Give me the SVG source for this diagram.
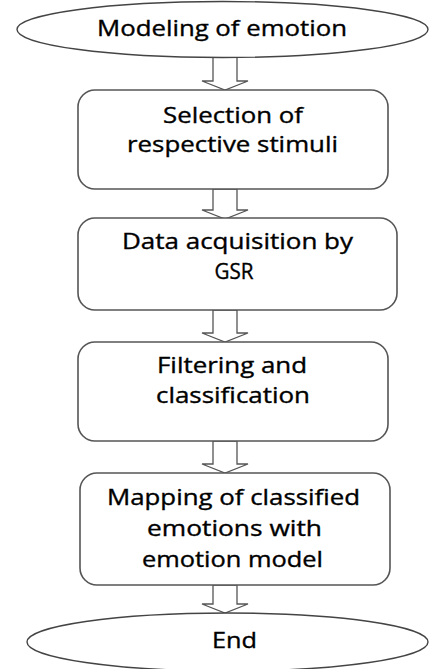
<svg xmlns="http://www.w3.org/2000/svg" width="429" height="669" viewBox="0 0 429 669">
<style>
.shape{fill:#fff;stroke:#555;stroke-width:1.6}
.ell{fill:#fff;stroke:#444;stroke-width:1.4}
.arr{fill:#fff;stroke:#555;stroke-width:1.3;stroke-linejoin:miter}
text{font-family:"Open Sans","Liberation Sans",sans-serif;font-size:21px;fill:#000;stroke:#000;stroke-width:0.35;text-anchor:middle}
</style>
<rect width="429" height="669" fill="#fff"/>
<g id="connectors">
<polygon class="arr" points="213,57 237,57 237,81 248,81 225,90 202,81 213,81"/>
<polygon class="arr" points="213,189 237,189 237,210 248,210 225,219 202,210 213,210"/>
<polygon class="arr" points="213,310 237,310 237,333 248,333 225,342 202,333 213,333"/>
<polygon class="arr" points="213,441 237,441 237,464 248,464 225,473 202,464 213,464"/>
<polygon class="arr" points="213,585 237,585 237,604 248,604 225,613 202,604 213,604"/>
</g>
<g id="start">
<ellipse class="ell" cx="222.5" cy="29.5" rx="205.5" ry="28"/>
<text x="222" y="36" textLength="250" lengthAdjust="spacingAndGlyphs">Modeling of emotion</text>
</g>
<g id="selection">
<rect class="shape" x="78" y="90" width="310" height="99" rx="17"/>
<text x="233" y="123" textLength="140" lengthAdjust="spacingAndGlyphs">Selection of</text>
<text x="232.5" y="152" textLength="211" lengthAdjust="spacingAndGlyphs">respective stimuli</text>
</g>
<g id="acquisition">
<rect class="shape" x="78" y="218" width="319" height="92" rx="17"/>
<text x="237.5" y="249" textLength="231" lengthAdjust="spacingAndGlyphs">Data acquisition by</text>
<text x="234" y="279" textLength="39" lengthAdjust="spacingAndGlyphs">GSR</text>
</g>
<g id="filtering">
<rect class="shape" x="78" y="342" width="310" height="99" rx="17"/>
<text x="232" y="373" textLength="150" lengthAdjust="spacingAndGlyphs">Filtering and</text>
<text x="233" y="403" textLength="154" lengthAdjust="spacingAndGlyphs">classification</text>
</g>
<g id="mapping">
<rect class="shape" x="80" y="473" width="310" height="112" rx="17"/>
<text x="233.5" y="505" textLength="253" lengthAdjust="spacingAndGlyphs">Mapping of classified</text>
<text x="234.5" y="536" textLength="175" lengthAdjust="spacingAndGlyphs">emotions with</text>
<text x="232.5" y="567" textLength="181" lengthAdjust="spacingAndGlyphs">emotion model</text>
</g>
<g id="end">
<ellipse class="ell" cx="227.5" cy="642" rx="200.5" ry="29"/>
<text x="234.5" y="648" textLength="45" lengthAdjust="spacingAndGlyphs">End</text>
</g>
</svg>
